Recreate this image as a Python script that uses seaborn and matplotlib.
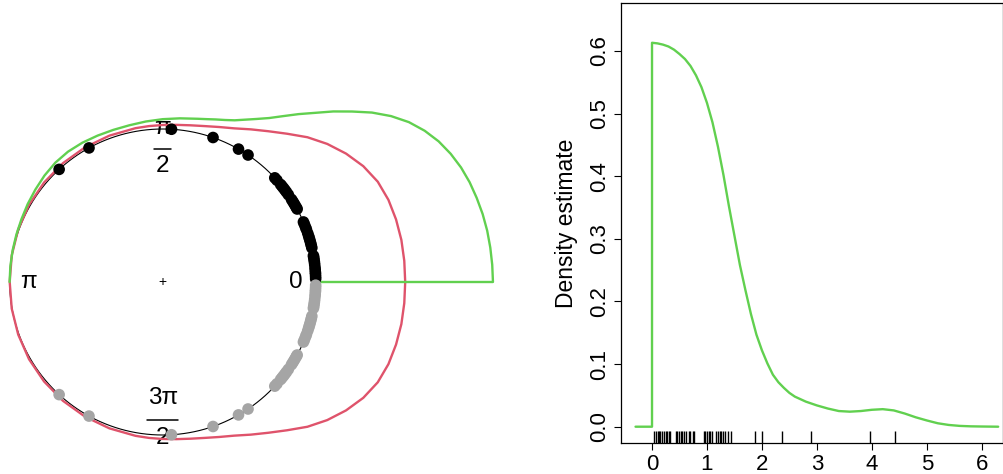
import numpy as np
import matplotlib
matplotlib.use('Agg')
import matplotlib.pyplot as plt
import seaborn as sns

# observations (rug on the right, points on the half circle)
obs = [0.04, 0.07, 0.10, 0.12, 0.15, 0.18, 0.22, 0.25, 0.28, 0.31, 0.33,
       0.43, 0.46, 0.49, 0.52, 0.55, 0.58, 0.62, 0.67, 0.70, 0.74, 0.77,
       0.95, 0.97, 1.00, 1.03, 1.06, 1.09, 1.16, 1.20, 1.23, 1.26, 1.29,
       1.32, 1.39, 1.43, 1.87, 2.01, 2.36, 2.89, 3.96, 4.42]

# density estimate
dens_x = [-0.3, 0.0, 0.0, 0.1, 0.2, 0.3, 0.4, 0.5, 0.6, 0.7, 0.8, 0.9, 1.0,
          1.1, 1.2, 1.3, 1.4, 1.5, 1.6, 1.7, 1.8, 1.9, 2.0, 2.1, 2.2, 2.3,
          2.4, 2.5, 2.6, 2.8, 3.0, 3.2, 3.4, 3.6, 3.8, 4.0, 4.2, 4.4, 4.6,
          4.8, 5.0, 5.2, 5.4, 5.6, 5.8, 6.0, 6.2, 6.3]
dens_y = [0.0, 0.0, 0.613, 0.612, 0.610, 0.607, 0.602, 0.595, 0.587, 0.576,
          0.561, 0.542, 0.517, 0.486, 0.447, 0.402, 0.352, 0.305, 0.258,
          0.218, 0.180, 0.147, 0.122, 0.101, 0.083, 0.071, 0.062, 0.054,
          0.048, 0.040, 0.034, 0.029, 0.025, 0.024, 0.025, 0.027, 0.028,
          0.026, 0.021, 0.015, 0.010, 0.0055, 0.0028, 0.0013, 0.0006,
          0.0003, 0.0001, 0.0]

# red circular density as radius (unit circle = 1), upper half
red_deg = [0, 5, 10, 15, 20, 25, 30, 35, 40, 45, 50, 55, 60, 65, 70, 75, 80,
           85, 90, 95, 100, 110, 120, 130, 140, 150, 160, 170, 180]
red_r = [1.585, 1.585, 1.584, 1.579, 1.570, 1.551, 1.514, 1.463, 1.404,
         1.338, 1.265, 1.203, 1.152, 1.108, 1.078, 1.055, 1.040, 1.031,
         1.026, 1.023, 1.021, 1.018, 1.016, 1.014, 1.012, 1.009, 1.005,
         1.002, 1.0]

y_ticks = [0.0, 0.1, 0.2, 0.3, 0.4, 0.5, 0.6]
x_ticks = [0, 1, 2, 3, 4, 5, 6]

sns.set_style('white')
plt.rcParams['font.family'] = ['Liberation Sans', 'DejaVu Sans']
plt.rcParams['text.color'] = 'black'
plt.rcParams['axes.labelcolor'] = 'black'
plt.rcParams['xtick.color'] = 'black'
plt.rcParams['ytick.color'] = 'black'

green = '#61D04F'
red = '#DF536B'
grey = '#a5a5a5'

fig = plt.figure(figsize=(10.04, 4.74), dpi=100)

# ---- left: circular plot
ax1 = fig.add_axes([0, 0, 520 / 1004, 1])
scale = 1.89  # radius units per unit of density
ang = np.pi * np.array(obs) / 6

t = np.linspace(0, 2 * np.pi, 361)
sns.lineplot(x=np.cos(t), y=np.sin(t), sort=False, estimator=None,
             color='black', lw=0.8, ax=ax1)

phi = np.deg2rad(red_deg)
phi_full = np.concatenate([phi, 2 * np.pi - phi[::-1]])
r_full = np.concatenate([red_r, red_r[::-1]])
sns.lineplot(x=r_full * np.cos(phi_full), y=r_full * np.sin(phi_full),
             sort=False, estimator=None, color=red, lw=1.7, ax=ax1)

gx = np.array(dens_x[2:])
gy = np.array(dens_y[2:])
keep = gx <= 6
gphi = np.pi * gx[keep] / 6
gr = 1 + scale * gy[keep]
sns.lineplot(x=np.concatenate([[1.0], gr * np.cos(gphi)]),
             y=np.concatenate([[0.0], gr * np.sin(gphi)]),
             sort=False, estimator=None, color=green, lw=1.7, ax=ax1)

sns.scatterplot(x=np.cos(ang), y=np.sin(ang), color='black', s=70,
                edgecolor='none', ax=ax1, zorder=3)
sns.scatterplot(x=np.cos(-ang), y=np.sin(-ang), color=grey, s=70,
                edgecolor='none', ax=ax1, zorder=4)

# angle labels, fractions stacked by hand
lab = dict(fontsize=17.5, ha='center', va='center', zorder=1)
ax1.text(0.87, 0, '0', **lab)
ax1.text(-0.88, 0, 'π', **lab)
ax1.text(0, 1.005, 'π', **lab)
ax1.plot([-0.057, 0.054], [0.869, 0.869], color='black', lw=1.1, zorder=1)
ax1.text(0, 0.755, '2', **lab)
ax1.text(0, -0.76, '3π', **lab)
ax1.plot([-0.105, 0.102], [-0.902, -0.902], color='black', lw=1.1, zorder=1)
ax1.text(0, -1.02, '2', **lab)
ax1.text(0, 0, '+', fontsize=10, ha='center', va='center')

ax1.set_xlim(-162.7 / 153, (520 - 162.7) / 153)
ax1.set_ylim(-192 / 153, (474 - 192) / 153)
ax1.axis('off')

# ---- right: linear density with rug
ax2 = fig.add_axes([621.3 / 1004, 30.7 / 474, 382 / 1004, 440 / 474])
sns.lineplot(x=dens_x, y=dens_y, sort=False, estimator=None, color=green,
             lw=1.7, ax=ax2)
sns.rugplot(x=obs, height=0.027, color='black', lw=0.8, ax=ax2)

ax2.set_xlim(-0.559, 6.393)
ax2.set_ylim(-0.0265, 0.676)
ax2.set_xticks(x_ticks)
ax2.set_xticklabels([str(v) for v in x_ticks], fontsize=16)
ax2.set_yticks(y_ticks)
ax2.set_yticklabels([f'{v:.1f}' for v in y_ticks], fontsize=16,
                    rotation=90, va='center')
ax2.set_ylabel('Density estimate', fontsize=16.5, labelpad=8)
ax2.tick_params(axis='both', direction='out', length=5, width=0.8,
                color='black', pad=3, bottom=True, left=True)
for sp in ax2.spines.values():
    sp.set_color('black')
    sp.set_linewidth(0.9)

fig.savefig('out.png', dpi=100)
